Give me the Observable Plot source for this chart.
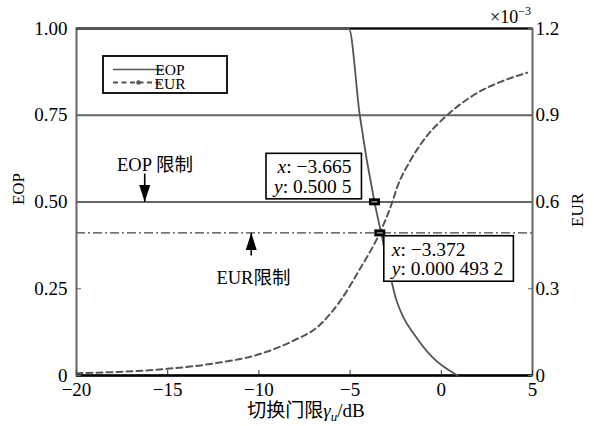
<!DOCTYPE html>
<html>
<head>
<meta charset="utf-8">
<script src="https://cdn.jsdelivr.net/npm/d3@7"></script>
<script src="https://cdn.jsdelivr.net/npm/@observablehq/plot@0.6"></script>
<style>
  body { margin: 0; background: #fff; }
  #chart svg { display: block; }
</style>
</head>
<body>
<div id="chart"></div>
<script>
// Switching threshold γu (dB) against outage probability (EOP, left axis)
const eopX = [-20, -5.07, -4.47, -3.665, -3.30, -2.895, -2.456, -2.07, -1.52, -0.48, 0.89];
const eopY = [1, 1, 0.75, 0.5005, 0.411, 0.311, 0.216, 0.167, 0.121, 0.052, 0];

// ... and against EUR (right axis, in units of 10^-3)
const eurX = [-20, -15.03, -12.65, -9.91, -8.09, -6.80, -5.53, -4.43, -3.372, -2.69, -2.42, -1.69, -0.77, 0.32, 1.78, 3.43, 4.71];
const eurY = [0.008, 0.023, 0.040, 0.075, 0.121, 0.167, 0.259, 0.372, 0.4932, 0.599, 0.651, 0.744, 0.830, 0.900, 0.970, 1.020, 1.047];

const xTicks = [-20, -15, -10, -5, 0, 5];
const eopTicks = [0, 0.25, 0.5, 0.75, 1];
const eurTicks = [0, 0.3, 0.6, 0.9, 1.2];   // ×10^-3
const eurMax = 1.2;                          // top of the EUR axis (×10^-3)

const eopLimit = 0.5;
const eurLimit = 0.4932;                     // ×10^-3
const gridLines = [0.75];

// data cursors on the two curves
const cursorX = [-3.665, -3.372];
const cursorSeries = ["EOP", "EUR"];
const cursorValue = [0.5005, 0.4932];
const cursorText = ["x: −3.665\ny: 0.500 5", "x: −3.372\ny: 0.000 493 2"];

// limit notes with arrows pointing at the limit lines
const noteLabels = ["EOP 限制", "EUR限制"];
const noteX = [-15.7, -10.3];
const noteY = [0.605, 0.282];
const arrowX = [-16.26, -10.42];
const arrowBase = [0.582, 0.346];

const font = "'Liberation Serif','Noto Sans CJK SC',serif";

const eop = eopX.map((x, i) => ({x, y: eopY[i]}));
const eur = eurX.map((x, i) => ({x, y: eurY[i] / eurMax}));
const toLeft = (s, v) => s === "EUR" ? v / eurMax : v;
const cursors = cursorX.map((x, i) => ({x, y: toLeft(cursorSeries[i], cursorValue[i]), text: cursorText[i]}));
const limits = [eopLimit, eurLimit / eurMax];
const notes = noteLabels.map((t, i) => ({text: t, x: noteX[i], y: noteY[i], ax: arrowX[i], base: arrowBase[i], tip: limits[i], down: i === 0}));

const arrowHead = {draw(ctx) { ctx.moveTo(0, 0); ctx.lineTo(-5.5, -17); ctx.lineTo(5.5, -17); ctx.closePath(); }};
const cursorBox = {draw(ctx) { ctx.rect(-5.5, -3.5, 11, 7); }};
const cursorMid = {draw(ctx) { ctx.rect(-3, -0.7, 6, 1.4); }};

const fmtEop = d => d === 0 ? "0" : d.toFixed(2);
const fmtEur = d => d === 0 ? "0" : (d * eurMax).toFixed(1);

const plot = Plot.plot({
  width: 594,
  height: 426,
  marginLeft: 76,
  marginRight: 62,
  marginTop: 28,
  marginBottom: 51,
  style: {fontFamily: font, fontSize: "19px", background: "#fff", color: "#000"},
  x: {domain: [-20, 5]},
  y: {domain: [0, 1]},
  marks: [
    Plot.ruleY(gridLines, {stroke: "#666", strokeWidth: 2}),
    Plot.ruleY([eopLimit], {stroke: "#666", strokeWidth: 2}),
    Plot.ruleY([eurLimit / eurMax], {stroke: "#444", strokeWidth: 1.4, strokeDasharray: "9,3,2,3"}),
    Plot.frame({stroke: "#666", strokeWidth: 2}),
    Plot.ruleY([0], {stroke: "#000", strokeWidth: 2.6}),
    Plot.ruleY([1], {stroke: "#000", strokeWidth: 2}),
    Plot.axisX({ticks: xTicks, tickSize: -5, tickPadding: 12, stroke: "#333", label: null}),
    Plot.axisY({ticks: eopTicks, tickSize: -5, tickPadding: 14, stroke: "#666", tickFormat: fmtEop, label: null}),
    Plot.axisY({anchor: "right", ticks: eurTicks.map(t => t / eurMax), tickSize: -5, tickPadding: 8, stroke: "#666", tickFormat: fmtEur, label: null}),
    Plot.line(eur, {x: "x", y: "y", stroke: "#555", strokeWidth: 2, strokeDasharray: "6,4", curve: "monotone-x"}),
    Plot.line(eop, {x: "x", y: "y", stroke: "#555", strokeWidth: 1.8, curve: "monotone-x"}),
    // limit notes
    Plot.link(notes, {x1: "ax", x2: "ax", y1: "base", y2: "tip", stroke: "#000", strokeWidth: 1.6}),
    Plot.dot(notes, {x: "ax", y: "tip", symbol: arrowHead, fill: "#000", stroke: "none", rotate: d => d.down ? 0 : 180}),
    Plot.text(notes, {x: "x", y: "y", text: "text", fontSize: 18.5, fill: "#000"}),
    // data cursors
    Plot.dot(cursors, {x: "x", y: "y", symbol: cursorBox, fill: "#000", stroke: "none"}),
    Plot.dot(cursors, {x: "x", y: "y", symbol: cursorMid, fill: "#999", stroke: "none"}),
    Plot.text([cursors[0]], {x: "x", y: "y", text: "text", textAnchor: "end", lineAnchor: "bottom", dx: -23, dy: -9, fontSize: 19.5, lineHeight: 1.0, fill: "#000"}),
    Plot.text([cursors[1]], {x: "x", y: "y", text: "text", textAnchor: "start", lineAnchor: "top", dx: 12, dy: 9, fontSize: 19.5, lineHeight: 1.0, fill: "#000"})
  ]
});

document.getElementById("chart").appendChild(plot);

const svg = d3.select(plot);

// italic variable names and a framed box around each cursor readout
svg.selectAll("text")
  .filter(function() { return /^x: /.test(this.textContent); })
  .each(function() {
    const text = d3.select(this);
    text.selectAll("tspan").each(function() {
      const line = d3.select(this);
      const s = line.text();
      line.text("");
      line.append("tspan").attr("font-style", "italic").text(s[0]);
      line.append("tspan").text(s.slice(1));
    });
    const b = this.getBBox();
    d3.select(this.parentNode).insert("rect", () => this)
      .attr("transform", text.attr("transform"))
      .attr("x", b.x - 6).attr("y", b.y - 3)
      .attr("width", b.width + 16).attr("height", b.height + 5)
      .attr("fill", "#fff").attr("stroke", "#000").attr("stroke-width", 1.6);
  });

// legend
const lg = svg.append("g").attr("font-family", font).attr("font-size", 15.5);
lg.append("rect").attr("x", 103).attr("y", 56).attr("width", 124).attr("height", 37)
  .attr("fill", "#fff").attr("stroke", "#000").attr("stroke-width", 1.8);
lg.append("line").attr("x1", 113).attr("x2", 164).attr("y1", 69.5).attr("y2", 69.5)
  .attr("stroke", "#555").attr("stroke-width", 1.6);
lg.append("line").attr("x1", 113).attr("x2", 164).attr("y1", 82.5).attr("y2", 82.5)
  .attr("stroke", "#555").attr("stroke-width", 1.8).attr("stroke-dasharray", "5,3.5");
lg.append("circle").attr("cx", 138.5).attr("cy", 82.5).attr("r", 2.3).attr("fill", "#555");
lg.append("text").attr("x", 170).attr("y", 75).text("EOP");
lg.append("text").attr("x", 170).attr("y", 88.5).text("EUR");

// axis titles
svg.append("text").attr("font-family", font).attr("font-size", 17)
  .attr("transform", "translate(24,189) rotate(-90)").attr("text-anchor", "middle").text("EOP");
svg.append("text").attr("font-family", font).attr("font-size", 17)
  .attr("transform", "translate(583,210) rotate(-90)").attr("text-anchor", "middle").text("EUR");

const xt = svg.append("text").attr("font-family", font).attr("font-size", 19)
  .attr("x", 306).attr("y", 417).attr("text-anchor", "middle");
xt.append("tspan").text("切换门限");
xt.append("tspan").attr("font-style", "italic").text("γ");
xt.append("tspan").attr("font-style", "italic").attr("font-size", 13).attr("dy", 4).text("u");
xt.append("tspan").attr("dy", -4).text("/dB");

// exponent of the EUR axis
const ex = svg.append("text").attr("font-family", font).attr("font-size", 18)
  .attr("x", 531).attr("y", 23).attr("text-anchor", "end");
ex.append("tspan").text("×10");
ex.append("tspan").attr("font-size", 12).attr("dy", -8).text("−3");
</script>
</body>
</html>
